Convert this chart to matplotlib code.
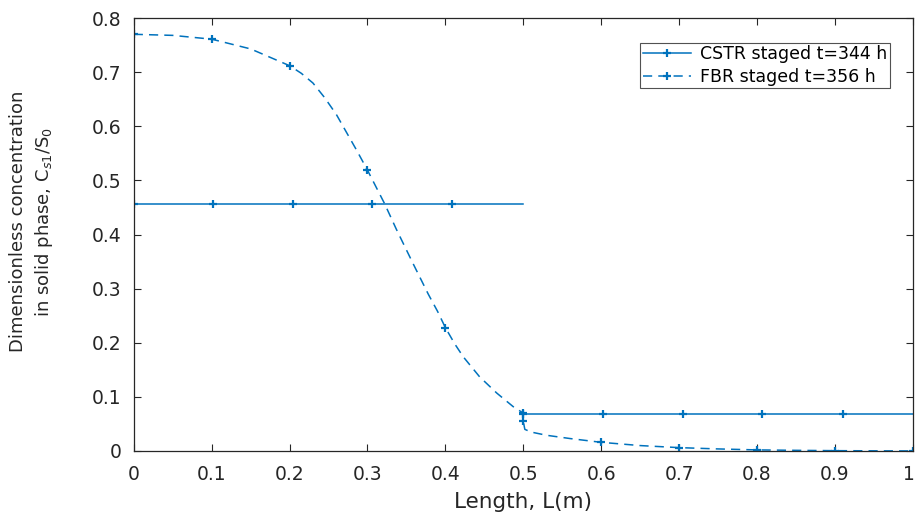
import matplotlib
matplotlib.use("Agg")
import matplotlib.pyplot as plt
import matplotlib.transforms as mtransforms
import numpy as np

plt.rcParams['font.family'] = ['DejaVu Sans']

# CSTR staged: two stages, flat in each
cstr_x1 = [0, 0.102, 0.204, 0.306, 0.408, 0.5]
cstr_y1 = [0.457, 0.457, 0.457, 0.457, 0.457, 0.457]
cstr_x2 = [0.5, 0.6025, 0.705, 0.807, 0.91, 1.0]
cstr_y2 = [0.068, 0.068, 0.068, 0.068, 0.068, 0.068]

# FBR staged profile
fbr_x = [0, 0.05, 0.1, 0.15, 0.2, 0.215, 0.23, 0.245, 0.26, 0.286, 0.3, 0.322, 0.337, 0.359,
         0.378, 0.39, 0.4, 0.412, 0.423, 0.444, 0.466, 0.487, 0.5,
         0.5, 0.502, 0.51, 0.53, 0.56, 0.6, 0.65, 0.7, 0.75, 0.8, 0.85, 0.9, 0.95, 1.0]
fbr_y = [0.770, 0.768, 0.761, 0.743, 0.712, 0.698, 0.680, 0.653, 0.622, 0.556, 0.519, 0.457, 0.410, 0.345,
         0.290, 0.258, 0.228, 0.198, 0.174, 0.137, 0.107, 0.082, 0.070,
         0.055, 0.040, 0.035, 0.029, 0.023, 0.016, 0.010, 0.0062, 0.0038, 0.002, 0.0012, 0.0006, 0.0003, 0.0001]
fbr_marks = [0, 2, 4, 10, 16, 22, 23, 28, 30, 32, 34, 36]

x_ticks = ['0', '0.1', '0.2', '0.3', '0.4', '0.5', '0.6', '0.7', '0.8', '0.9', '1']
y_ticks = ['0', '0.1', '0.2', '0.3', '0.4', '0.5', '0.6', '0.7', '0.8']

blue = '#0072BD'
axc = '#262626'

fig = plt.figure(figsize=(9.16, 5.16), dpi=100)
ax = fig.add_axes([0.146, 0.126, 0.8505, 0.839])

cx = cstr_x1 + [np.nan] + cstr_x2
cy = cstr_y1 + [np.nan] + cstr_y2
cmarks = [0, 1, 2, 3, 4, 7, 8, 9, 10, 11]
ax.plot(cx, cy, '-', color=blue, lw=1.1, marker='+', ms=6, mew=1.6,
        markevery=cmarks, label='CSTR staged t=344 h')
ax.plot(fbr_x, fbr_y, '--', color=blue, lw=1.1, dashes=(6, 4), marker='+', ms=6, mew=1.6,
        markevery=fbr_marks, label='FBR staged t=356 h')

ax.set_xlim(0, 1)
ax.set_ylim(0, 0.8)
ax.set_xticks(np.arange(0, 1.01, 0.1))
ax.set_xticklabels(x_ticks)
ax.set_yticks(np.arange(0, 0.81, 0.1))
ax.set_yticklabels(y_ticks)
ax.tick_params(direction='in', top=True, right=True, length=5, width=0.8,
               colors=axc, labelsize=13.5, labelcolor=axc)
ax.tick_params(axis='x', pad=10)
ax.tick_params(axis='y', pad=9)
for s in ax.spines.values():
    s.set_color(axc)
    s.set_linewidth(0.9)

# nudge the last x label so it stays inside the figure
last = ax.get_xticklabels()[-1]
last.set_transform(last.get_transform() +
                   mtransforms.ScaledTranslation(-4 / 100, 0, fig.dpi_scale_trans))

ax.set_xlabel('Length, L(m)', fontsize=15.5, color=axc)
ax.xaxis.set_label_coords(0.5, -0.095)
ax.set_ylabel('Dimensionless concentration\nin solid phase, C$_{s1}$/S$_0$',
              fontsize=13, color=axc, linespacing=1.35)
ax.yaxis.set_label_coords(-0.101, 0.53)

leg = ax.legend(loc='upper right', bbox_to_anchor=(0.9705, 0.943), fontsize=12.5,
                frameon=True, fancybox=False, edgecolor=axc, handlelength=2.8,
                borderpad=0.15, labelspacing=0.25, handletextpad=0.5, borderaxespad=0)
leg.get_frame().set_linewidth(0.8)

fig.savefig('out.png', dpi=100)
